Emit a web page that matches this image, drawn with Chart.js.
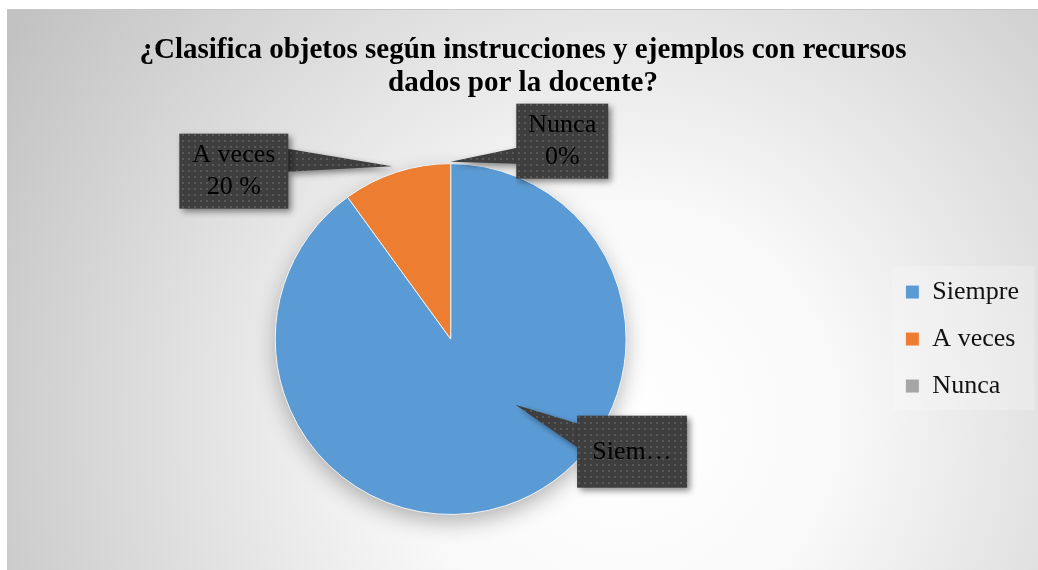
<!DOCTYPE html>
<html>
<head>
<meta charset="utf-8">
<script src="https://cdn.jsdelivr.net/npm/chart.js@4.4.1/dist/chart.umd.min.js"></script>
<style>
  html, body { margin: 0; padding: 0; background: #fff; }
  #wrap { width: 1038px; height: 570px; }
</style>
</head>
<body>
<div id="wrap"><canvas id="grafico" width="1038" height="570"></canvas></div>
<script>
// Datos del gráfico
const categorias = ['Siempre', 'A veces', 'Nunca'];
const valores = [90, 10, 0];
const etiquetas = [['Siem…'], ['A veces', '20 %'], ['Nunca', '0%']];

// Posición de cada globo (en radios, relativo al centro del pie)
const globos = [
    { cx: 1.034, cy: 0.642, w: 110, h: 72, tx: 0.369, ty: 0.375, lado: 'izq', b0: 8, b1: 32 },
    { cx: -1.236, cy: -0.957, w: 109, h: 75, tx: -0.335, ty: -0.985, lado: 'der', b0: 15, b1: 38 },
    { cx: 0.636, cy: -1.128, w: 92, h: 75, tx: 0.0, ty: -1.01, lado: 'izq', b0: 44, b1: 60 }
];

function patronPuntos(ctx) {
    const c = document.createElement('canvas');
    c.width = 6; c.height = 6;
    const p = c.getContext('2d');
    p.fillStyle = '#3e3e3e';
    p.fillRect(0, 0, 6, 6);
    p.fillStyle = '#585858';
    p.fillRect(2, 2, 2, 2);
    return ctx.createPattern(c, 'repeat');
}

const fondo = {
    id: 'fondo',
    beforeDraw(chart) {
        const ctx = chart.ctx;
        ctx.save();
        ctx.fillStyle = '#fff';
        ctx.fillRect(0, 0, chart.width, chart.height);
        const g = ctx.createRadialGradient(620, 420, 0, 620, 420, 720);
        g.addColorStop(0, '#ffffff');
        g.addColorStop(0.3, '#f9f9f9');
        g.addColorStop(1, '#c2c2c2');
        ctx.fillStyle = g;
        ctx.fillRect(7, 9, chart.width - 7, chart.height - 9);
        ctx.fillStyle = '#c8c8c8';
        ctx.fillRect(7, 9, chart.width - 7, 1);
        // caja clara de la leyenda
        const lg = chart.legend;
        const hb = lg.legendHitBoxes;
        if (hb && hb.length) {
            const top = hb[0].top + hb[0].height / 2 - 26;
            const last = hb[hb.length - 1];
            const bottom = last.top + last.height / 2 + 24;
            ctx.fillStyle = 'rgba(255,255,255,0.22)';
            ctx.fillRect(lg.left + 8, top, 142, bottom - top);
        }
        ctx.restore();
    },
    beforeDatasetsDraw(chart) {
        const arc = chart.getDatasetMeta(0).data[0];
        const ctx = chart.ctx;
        ctx.save();
        ctx.shadowColor = 'rgba(0,0,0,0.3)';
        ctx.shadowBlur = 22;
        ctx.shadowOffsetY = 8;
        ctx.fillStyle = '#5B9BD5';
        ctx.beginPath();
        ctx.arc(arc.x, arc.y, arc.outerRadius - 1, 0, Math.PI * 2);
        ctx.fill();
        ctx.restore();
    }
};

const globosPlugin = {
    id: 'globos',
    afterDatasetsDraw(chart) {
        const ctx = chart.ctx;
        const arcs = chart.getDatasetMeta(0).data;
        const patron = patronPuntos(ctx);
        arcs.forEach((arc, i) => {
            const g = globos[i];
            const r = arc.outerRadius;
            const bx = arc.x + g.cx * r - g.w / 2;
            const by = arc.y + g.cy * r - g.h / 2;
            const tx = arc.x + g.tx * r;
            const ty = arc.y + g.ty * r;
            const ex = g.lado === 'izq' ? bx + 1 : bx + g.w - 1;
            ctx.save();
            ctx.shadowColor = 'rgba(0,0,0,0.45)';
            ctx.shadowBlur = 6;
            ctx.shadowOffsetX = 3;
            ctx.shadowOffsetY = 3;
            ctx.fillStyle = patron;
            ctx.beginPath();
            ctx.moveTo(tx, ty);
            ctx.lineTo(ex, by + g.b0);
            ctx.lineTo(ex, by + g.b1);
            ctx.closePath();
            ctx.fill();
            ctx.fillRect(bx, by, g.w, g.h);
            ctx.restore();

            ctx.save();
            ctx.fillStyle = '#000';
            ctx.font = '26px "Liberation Serif", serif';
            ctx.textAlign = 'center';
            ctx.textBaseline = 'middle';
            const lineas = etiquetas[i];
            const cx = bx + g.w / 2;
            const cy = by + g.h / 2;
            lineas.forEach((t, k) => {
                ctx.fillText(t, cx, cy + (k - (lineas.length - 1) / 2) * 32);
            });
            ctx.restore();
        });
    }
};

new Chart(document.getElementById('grafico'), {
    type: 'pie',
    data: {
        labels: categorias,
        datasets: [{
            data: valores,
            backgroundColor: ['#5B9BD5', '#ED7D31', '#A5A5A5'],
            borderColor: '#f4f4f4',
            borderWidth: 1
        }]
    },
    options: {
        responsive: false,
        animation: false,
        layout: { padding: { top: 0, left: 17, right: 9, bottom: 55 } },
        plugins: {
            title: {
                display: true,
                text: ['¿Clasifica objetos según instrucciones y ejemplos con recursos', 'dados por la docente?'],
                color: '#000',
                font: { family: 'Liberation Serif', size: 29, weight: 'bold', lineHeight: 1.14 },
                padding: { top: 34, bottom: 63 }
            },
            legend: {
                position: 'right',
                fullSize: false,
                labels: {
                    color: '#111',
                    font: { family: 'Liberation Serif', size: 26 },
                    boxWidth: 14,
                    boxHeight: 14,
                    padding: 21
                }
            },
            tooltip: { enabled: false }
        }
    },
    plugins: [fondo, globosPlugin]
});
</script>
</body>
</html>
